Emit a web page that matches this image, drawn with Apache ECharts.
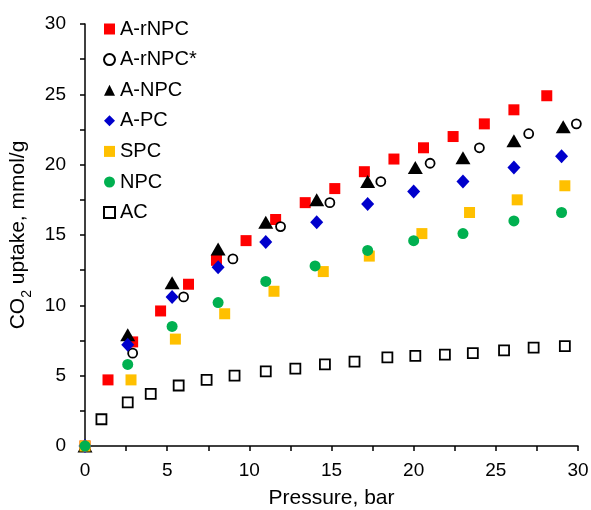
<!DOCTYPE html>
<html>
<head>
<meta charset="utf-8">
<script src="https://cdn.jsdelivr.net/npm/echarts@6/dist/echarts.min.js"></script>
<style>
    html, body { margin: 0; padding: 0; background: #fff; }
    #uptakeChart { width: 591px; height: 510px; }
</style>
</head>
<body>
<div id="uptakeChart"></div>
<script>
    // pressure (bar) / uptake (mmol/g) pairs
    const rNPC_x = [0, 1.4, 2.9, 4.6, 6.3, 8.0, 9.8, 11.6, 13.4, 15.2, 17.0, 18.8, 20.6, 22.4, 24.3, 26.1, 28.1]
    const rNPC_y = [0, 4.7, 7.4, 9.6, 11.5, 13.2, 14.6, 16.1, 17.3, 18.3, 19.5, 20.4, 21.2, 22.0, 22.9, 23.9, 24.9]
    const rNPCstar_x = [0, 2.9, 6.0, 9.0, 11.9, 14.9, 18.0, 21.0, 24.0, 27.0, 29.9]
    const rNPCstar_y = [0, 6.6, 10.6, 13.3, 15.6, 17.3, 18.8, 20.1, 21.2, 22.2, 22.9]
    const aNPC_x = [0, 2.6, 5.3, 8.1, 11.0, 14.1, 17.2, 20.1, 23.0, 26.1, 29.1]
    const aNPC_y = [0, 7.9, 11.6, 14.0, 15.9, 17.5, 18.8, 19.8, 20.5, 21.7, 22.7]
    const aPC_x = [0, 2.6, 5.3, 8.1, 11.0, 14.1, 17.2, 20.0, 23.0, 26.1, 29.0]
    const aPC_y = [0, 7.2, 10.6, 12.7, 14.5, 15.9, 17.2, 18.1, 18.8, 19.8, 20.6]
    const spc_x = [0, 2.8, 5.5, 8.5, 11.5, 14.5, 17.3, 20.5, 23.4, 26.3, 29.2]
    const spc_y = [0, 4.7, 7.6, 9.4, 11.0, 12.4, 13.5, 15.1, 16.6, 17.5, 18.5]
    const npc_x = [0, 2.6, 5.3, 8.1, 11.0, 14.0, 17.2, 20.0, 23.0, 26.1, 29.0]
    const npc_y = [0, 5.8, 8.5, 10.2, 11.7, 12.8, 13.9, 14.6, 15.1, 16.0, 16.6]
    const ac_x = [1.0, 2.6, 4.0, 5.7, 7.4, 9.1, 11.0, 12.8, 14.6, 16.4, 18.4, 20.1, 21.9, 23.6, 25.5, 27.3, 29.2]
    const ac_y = [1.9, 3.1, 3.7, 4.3, 4.7, 5.0, 5.3, 5.5, 5.8, 6.0, 6.3, 6.4, 6.5, 6.6, 6.8, 7.0, 7.1]

    const pairs = (xs, ys) => xs.map((x, i) => [x, ys[i]])

    let myChart = echarts.init(document.getElementById('uptakeChart'))
    const font = 'Liberation Sans, Arial, sans-serif'

    let options = {
        animation: false,
        textStyle: { fontFamily: font },
        legend: {
            orient: 'vertical',
            left: 98,
            top: 14,
            itemGap: 10.6,
            itemWidth: 11,
            itemHeight: 11,
            textStyle: { fontSize: 20, color: '#000', fontFamily: font },
            data: ['A-rNPC', 'A-rNPC*', 'A-NPC', 'A-PC', 'SPC', 'NPC', 'AC']
        },
        grid: { left: 85, right: 13, top: 24, bottom: 64, outerBoundsMode: 'none' },
        xAxis: {
            type: 'value',
            min: 0, max: 30, interval: 5,
            name: 'Pressure, bar',
            nameLocation: 'middle',
            nameGap: 42,
            nameTextStyle: { fontSize: 21, color: '#000' },
            axisLine: { lineStyle: { color: '#000', width: 1.5 } },
            axisTick: { length: 5, lineStyle: { color: '#000', width: 1.5 } },
            minorTick: { show: true, splitNumber: 2, length: 5, lineStyle: { color: '#000', width: 1.5 } },
            axisLabel: { fontSize: 19, color: '#000', margin: 15 },
            splitLine: { show: false }
        },
        yAxis: {
            type: 'value',
            min: 0, max: 30, interval: 5,
            name: '{a|CO}{b|2}{a| uptake, mmol/g}',
            nameLocation: 'middle',
            nameGap: 44,
            nameTextStyle: {
                rich: {
                    a: { fontSize: 21, color: '#000', fontFamily: font, verticalAlign: 'bottom', lineHeight: 26 },
                    b: { fontSize: 14, color: '#000', fontFamily: font, verticalAlign: 'bottom', lineHeight: 26, padding: [0, 0, -5, 0] }
                }
            },
            axisLine: { show: true, lineStyle: { color: '#000', width: 1.5 } },
            axisTick: { show: true, length: 5, lineStyle: { color: '#000', width: 1.5 } },
            minorTick: { show: true, splitNumber: 2, length: 5, lineStyle: { color: '#000', width: 1.5 } },
            axisLabel: { fontSize: 19, color: '#000', margin: 19 },
            splitLine: { show: false }
        },
        series: [{
            name: 'A-rNPC',
            type: 'scatter',
            symbol: 'rect',
            symbolSize: 11,
            itemStyle: { color: '#ff0000', opacity: 1 },
            data: pairs(rNPC_x, rNPC_y)
        }, {
            name: 'A-rNPC*',
            type: 'scatter',
            symbol: 'circle',
            symbolSize: 9,
            itemStyle: { color: '#fff', borderColor: '#000', borderWidth: 1.8, opacity: 1 },
            data: pairs(rNPCstar_x, rNPCstar_y)
        }, {
            name: 'A-NPC',
            type: 'scatter',
            symbol: 'triangle',
            symbolSize: [15, 13],
            itemStyle: { color: '#000', opacity: 1 },
            data: pairs(aNPC_x, aNPC_y)
        }, {
            name: 'A-PC',
            type: 'scatter',
            symbol: 'diamond',
            symbolSize: [13, 14],
            itemStyle: { color: '#0000cc', opacity: 1 },
            data: pairs(aPC_x, aPC_y)
        }, {
            name: 'SPC',
            type: 'scatter',
            symbol: 'rect',
            symbolSize: 11,
            itemStyle: { color: '#ffc000', opacity: 1 },
            data: pairs(spc_x, spc_y)
        }, {
            name: 'NPC',
            type: 'scatter',
            symbol: 'circle',
            symbolSize: 11,
            itemStyle: { color: '#00b050', opacity: 1 },
            data: pairs(npc_x, npc_y)
        }, {
            name: 'AC',
            type: 'scatter',
            symbol: 'rect',
            symbolSize: 10,
            itemStyle: { color: '#fff', borderColor: '#000', borderWidth: 1.8, opacity: 1 },
            data: pairs(ac_x, ac_y)
        }]
    }
    myChart.setOption(options)
</script>
</body>
</html>
